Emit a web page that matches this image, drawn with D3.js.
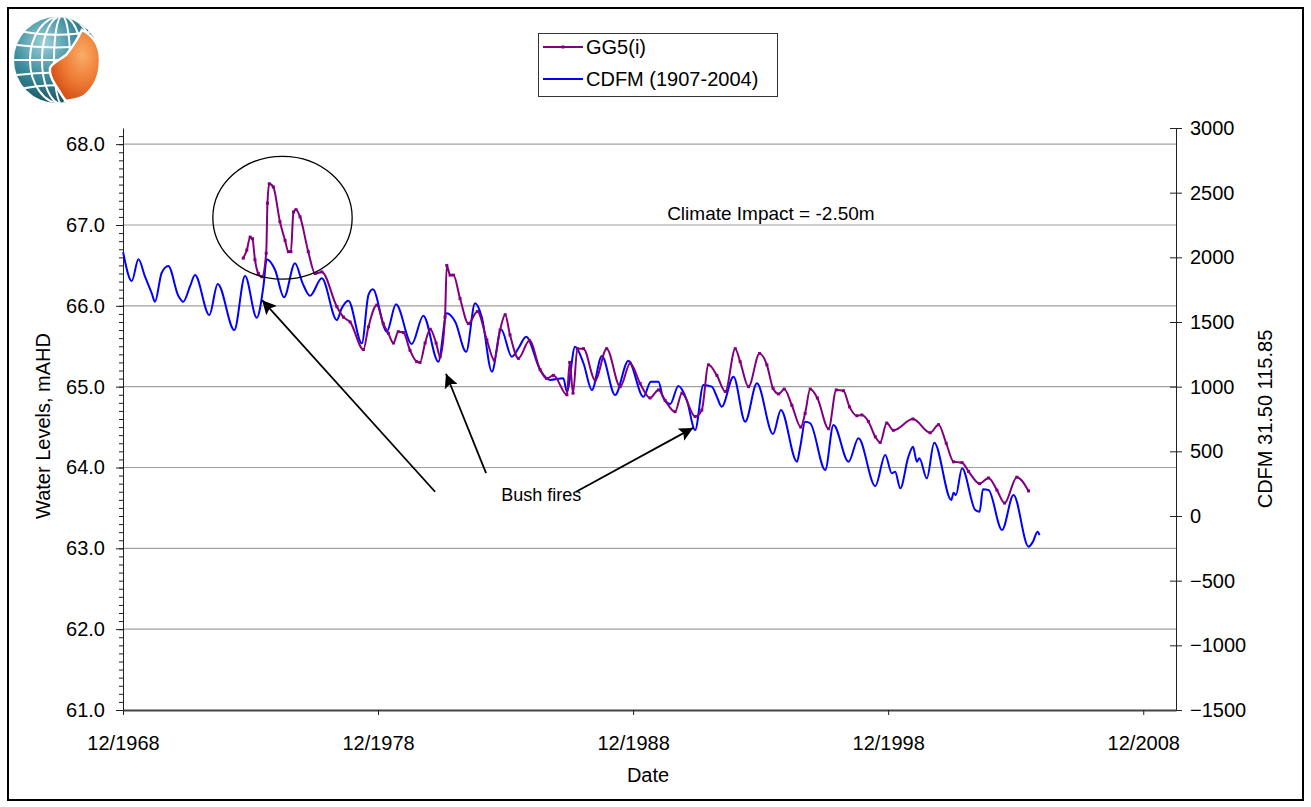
<!DOCTYPE html>
<html>
<head>
<meta charset="utf-8">
<script src="https://cdn.jsdelivr.net/npm/d3@7"></script>
<style>
  body { margin: 0; background: #fff; }
  svg text { font-family: "Liberation Sans", Arial, sans-serif; fill: #000; }
</style>
</head>
<body>
<svg id="chart" width="1311" height="807"></svg>
<script>
// CDFM 31.50 115.85 (right axis), [decimal year, mm]
const cdfm = [
  [1968.92,2040],[1969.26,1817],[1969.52,1985],[1969.78,1850],[1970.04,1724],[1970.17,1657],
  [1970.43,1879],[1970.69,1933],[1971.09,1701],[1971.28,1657],[1971.54,1773],[1971.74,1863],
  [1972.30,1554],[1972.63,1794],[1973.28,1438],[1973.70,1856],[1974.16,1533],[1974.42,1773],
  [1974.55,1985],[1974.88,1902],[1975.23,1691],[1975.66,1954],[1975.96,1799],[1976.25,1703],
  [1976.71,1838],[1977.30,1515],[1977.49,1606],[1977.75,1665],[1978.28,1335],[1978.54,1709],
  [1978.71,1753],[1979.26,1425],[1979.62,1637],[1980.24,1330],[1980.69,1549],[1981.28,1193],
  [1981.61,1567],[1981.94,1502],[1982.37,1270],[1982.72,1645],[1982.98,1541],[1983.38,1116],
  [1983.74,1444],[1984.16,1232],[1984.42,1297],[1984.72,1386],[1985.27,1129],[1985.66,1052],
  [1986.18,1065],[1986.32,961],[1986.64,1309],[1986.97,1181],[1987.30,974],[1987.69,1237],
  [1988.21,936],[1988.73,1201],[1989.32,922],[1989.61,1038],[1989.91,1038],[1990.08,922],
  [1990.37,866],[1990.69,1005],[1991.02,897],[1991.35,665],[1991.67,1013],[1992.00,1000],
  [1992.20,922],[1992.39,845],[1992.85,1077],[1993.31,729],[1993.77,1026],[1994.40,634],
  [1994.71,820],[1995.34,420],[1995.47,536],[1995.66,729],[1995.86,717],[1996.45,356],
  [1996.77,704],[1997.36,420],[1997.75,601],[1998.41,232],[1998.80,472],[1999.06,330],
  [1999.19,343],[1999.39,214],[1999.71,459],[1999.89,536],[2000.04,420],[2000.14,446],
  [2000.43,291],[2000.72,567],[2001.39,124],[2001.48,180],[2001.57,162],[2001.81,369],
  [2002.33,46],[2002.50,33],[2002.63,206],[2002.85,201],[2003.38,-108],[2003.83,162],
  [2004.42,-237],[2004.59,-199],[2004.77,-121],[2004.85,-147]
];

// GG5(i) water level (left axis), [decimal year, mAHD]
const gg5 = [
  [1973.63,66.59],[1973.77,66.69],[1973.90,66.85],[1973.99,66.83],[1974.09,66.57],[1974.22,66.40],
  [1974.36,66.36],[1974.53,66.65],[1974.58,67.27],[1974.65,67.51],[1974.81,67.47],[1975.07,67.04],
  [1975.27,66.81],[1975.40,66.67],[1975.50,66.67],[1975.60,67.16],[1975.70,67.19],[1975.86,67.10],
  [1976.18,66.67],[1976.45,66.40],[1976.71,66.42],[1977.30,65.99],[1977.56,65.86],[1977.82,65.80],
  [1978.34,65.46],[1978.54,65.74],[1978.87,66.01],[1979.12,65.78],[1979.32,65.66],[1979.52,65.54],
  [1979.71,65.68],[1979.91,65.67],[1980.17,65.45],[1980.43,65.31],[1980.56,65.30],[1980.76,65.54],
  [1980.96,65.71],[1981.19,65.54],[1981.35,65.37],[1981.54,65.86],[1981.61,66.50],[1981.74,66.38],
  [1981.87,66.38],[1982.13,66.09],[1982.46,65.78],[1982.81,65.93],[1983.18,65.58],[1983.47,65.33],
  [1983.70,65.70],[1983.90,65.89],[1984.09,65.64],[1984.42,65.35],[1984.85,65.57],[1985.27,65.21],
  [1985.53,65.10],[1985.79,65.14],[1986.32,64.90],[1986.43,65.30],[1986.56,64.92],[1986.73,65.47],
  [1986.97,65.47],[1987.43,65.08],[1987.88,65.47],[1988.41,65.00],[1988.80,65.29],[1989.19,65.04],
  [1989.58,64.86],[1989.91,64.96],[1990.17,64.83],[1990.56,64.69],[1990.83,64.92],[1991.35,64.63],
  [1991.61,64.71],[1991.87,65.27],[1992.20,65.14],[1992.53,64.94],[1992.92,65.47],[1993.11,65.31],
  [1993.44,65.00],[1993.87,65.41],[1994.16,65.27],[1994.40,64.98],[1994.62,64.91],[1994.84,64.97],
  [1995.14,64.77],[1995.49,64.50],[1995.66,64.67],[1995.86,64.97],[1996.14,64.86],[1996.58,64.48],
  [1996.88,64.96],[1997.16,64.95],[1997.40,64.75],[1997.69,64.64],[1997.88,64.65],[1998.14,64.57],
  [1998.41,64.38],[1998.60,64.31],[1998.86,64.55],[1999.12,64.46],[1999.89,64.60],[2000.56,64.43],
  [2000.89,64.53],[2001.19,64.30],[2001.48,64.07],[2001.81,64.06],[2002.07,63.95],[2002.50,63.80],
  [2002.85,63.87],[2003.18,63.72],[2003.48,63.56],[2003.96,63.88],[2004.42,63.71]
];

const leftTicks = [61, 62, 63, 64, 65, 66, 67, 68];
const rightTicks = [-1500, -1000, -500, 0, 500, 1000, 1500, 2000, 2500, 3000];
const xTickYears = [1968, 1978, 1988, 1998, 2008];   // each is December
const seriesNames = ['GG5(i)', 'CDFM (1907-2004)'];
const seriesColors = ['#800080', '#0000ff'];

// annotations in data units: [year, level]
const bushFireArrows = [
  [[1981.15, 63.70], [1974.37, 66.07]],
  [[1983.15, 63.93], [1981.58, 65.16]],
  [[1986.68, 63.70], [1991.27, 64.49]]
];
const bushFireLabel = [1985.31, 63.66, 'Bush fires'];
const climateLabel = [1990.25, 67.15, 'Climate Impact = -2.50m'];
const peakCircle = {cx: 1975.17, cy: 67.09, rx: 2.73, ry: 0.76};

function dy(y) {
  const Y = Math.floor(y);
  const s = new Date(Y, 0, 1), e = new Date(Y + 1, 0, 1);
  return new Date(+s + (y - Y) * (e - s));
}

const svg = d3.select('#chart');
const mLeft = 123, mRight = 1176, mTop = 128, mBottom = 710;

const x = d3.scaleTime()
  .domain([new Date(1968, 11, 1), new Date(2010, 2, 15)])
  .range([mLeft, mRight]);
const yL = d3.scaleLinear().domain([61, 68.2]).range([mBottom, mTop]);
const yR = d3.scaleLinear().domain([-1500, 3000]).range([mBottom, mTop]);

// outer frame
svg.append('rect')
  .attr('x', 8).attr('y', 8).attr('width', 1295).attr('height', 792)
  .attr('fill', '#fff').attr('stroke', '#000').attr('stroke-width', 2);

// logo (globe with orange WA)
const defs = svg.append('defs');
const logo = svg.append('g');
const gGlobe = defs.append('radialGradient').attr('id', 'globe').attr('cx', '35%').attr('cy', '30%').attr('r', '75%');
gGlobe.append('stop').attr('offset', '0%').attr('stop-color', '#9fd0d8');
gGlobe.append('stop').attr('offset', '50%').attr('stop-color', '#3a8c9c');
gGlobe.append('stop').attr('offset', '100%').attr('stop-color', '#16505f');
const gOrange = defs.append('radialGradient').attr('id', 'orange').attr('cx', '65%').attr('cy', '35%').attr('r', '70%');
gOrange.append('stop').attr('offset', '0%').attr('stop-color', '#f9ad66');
gOrange.append('stop').attr('offset', '60%').attr('stop-color', '#ec7630');
gOrange.append('stop').attr('offset', '100%').attr('stop-color', '#d44e16');
defs.append('clipPath').attr('id', 'globeClip')
  .append('circle').attr('cx', 57).attr('cy', 60).attr('r', 43);

logo.append('circle').attr('cx', 57).attr('cy', 60).attr('r', 43).attr('fill', 'url(#globe)');
const grid = logo.append('g').attr('clip-path', 'url(#globeClip)')
  .attr('fill', 'none').attr('stroke', '#fff').attr('stroke-width', 2);
[8, 20, 32].forEach(r => grid.append('ellipse').attr('cx', 62).attr('cy', 60).attr('rx', r).attr('ry', 44));
[-28, -14, 0, 14, 28].forEach(d => grid.append('path')
  .attr('d', `M12,${60 + d * 1.1} Q57,${60 + d * 0.7} 102,${60 + d * 1.1}`));
logo.append('path')
  .attr('d', 'M82,30 C78,38 72,48 66,55 C60,60 52,63 50,68 C49,74 52,80 56,86 C60,92 63,98 66,101 C72,100 78,99 84,96 C94,88 100,76 100,60 C100,46 94,36 82,30 Z')
  .attr('fill', 'url(#orange)').attr('stroke', '#fff').attr('stroke-width', 2.5);

// gridlines
svg.append('g').selectAll('line')
  .data(leftTicks.filter(d => d > 61))
  .join('line')
  .attr('x1', mLeft).attr('x2', mRight)
  .attr('y1', d => yL(d)).attr('y2', d => yL(d))
  .attr('stroke', '#a0a0a0').attr('stroke-width', 1.2);

// axes
const fontSize = 20;
svg.append('g').attr('transform', `translate(${mLeft},0)`)
  .call(d3.axisLeft(yL).tickValues(leftTicks).tickFormat(d3.format('.1f')).tickSize(7).tickSizeOuter(0).tickPadding(11));
svg.append('g').attr('transform', `translate(${mLeft},0)`)
  .call(d3.axisLeft(yL).tickValues(d3.range(611, 682).map(d => d / 10)).tickFormat('').tickSize(4).tickSizeOuter(0))
  .select('.domain').remove();
svg.append('g').attr('transform', `translate(${mRight},0)`)
  .call(d3.axisRight(yR).tickValues(rightTicks).tickFormat(d3.format('d')).tickSize(6).tickSizeOuter(0).tickPadding(8));
svg.append('g').attr('transform', `translate(${mRight},0)`)
  .call(d3.axisRight(yR).tickValues(rightTicks).tickFormat('').tickSize(-6).tickSizeOuter(0))
  .select('.domain').remove();
const axB = svg.append('g').attr('transform', `translate(0,${mBottom})`)
  .call(d3.axisBottom(x).tickValues(xTickYears.map(y => new Date(y, 11, 1)))
    .tickFormat(d3.timeFormat('%m/%Y')).tickSize(5).tickSizeOuter(0).tickPadding(21));

svg.selectAll('.tick text').attr('font-size', fontSize).attr('font-family', '"Liberation Sans", Arial, sans-serif');
svg.selectAll('.domain, .tick line').attr('stroke', '#222');
axB.select('.domain').attr('stroke-width', 2).attr('stroke', '#444');

// axis titles
svg.append('text').attr('transform', `translate(50,${(mTop + mBottom) / 2 + 7}) rotate(-90)`)
  .attr('text-anchor', 'middle').attr('font-size', fontSize).text('Water Levels, mAHD');
svg.append('text').attr('transform', `translate(1272,${(mTop + mBottom) / 2}) rotate(-90)`)
  .attr('text-anchor', 'middle').attr('font-size', fontSize).text('CDFM 31.50 115.85');
svg.append('text').attr('x', 648).attr('y', 782)
  .attr('text-anchor', 'middle').attr('font-size', fontSize).text('Date');

// series
const lineR = d3.line().x(d => x(dy(d[0]))).y(d => yR(d[1])).curve(d3.curveMonotoneX);
const lineL = d3.line().x(d => x(dy(d[0]))).y(d => yL(d[1])).curve(d3.curveMonotoneX);

svg.append('path').datum(cdfm).attr('d', lineR)
  .attr('fill', 'none').attr('stroke', seriesColors[1]).attr('stroke-width', 2);
svg.append('path').datum(gg5).attr('d', lineL)
  .attr('fill', 'none').attr('stroke', seriesColors[0]).attr('stroke-width', 2);
svg.append('g').selectAll('rect')
  .data(gg5)
  .join('rect')
  .attr('x', d => x(dy(d[0])) - 1.5).attr('y', d => yL(d[1]) - 1.5)
  .attr('width', 3).attr('height', 3).attr('fill', seriesColors[0]);

// annotations
const c = peakCircle;
svg.append('ellipse')
  .attr('cx', x(dy(c.cx))).attr('cy', yL(c.cy))
  .attr('rx', x(dy(c.cx + c.rx)) - x(dy(c.cx)))
  .attr('ry', yL(c.cy - c.ry) - yL(c.cy))
  .attr('fill', 'none').attr('stroke', '#000').attr('stroke-width', 1.3);

defs.append('marker').attr('id', 'arrow').attr('viewBox', '0 0 10 10')
  .attr('refX', 10).attr('refY', 5).attr('markerWidth', 14).attr('markerHeight', 14)
  .attr('markerUnits', 'userSpaceOnUse').attr('orient', 'auto')
  .append('path').attr('d', 'M0,0 L10,5 L0,10 L2,5 Z').attr('fill', '#000');

svg.append('g').selectAll('line')
  .data(bushFireArrows)
  .join('line')
  .attr('x1', d => x(dy(d[0][0]))).attr('y1', d => yL(d[0][1]))
  .attr('x2', d => x(dy(d[1][0]))).attr('y2', d => yL(d[1][1]))
  .attr('stroke', '#000').attr('stroke-width', 1.8)
  .attr('marker-end', 'url(#arrow)');

svg.append('text')
  .attr('x', x(dy(bushFireLabel[0]))).attr('y', yL(bushFireLabel[1]))
  .attr('dy', '0.35em').attr('text-anchor', 'middle').attr('font-size', 18)
  .text(bushFireLabel[2]);
svg.append('text')
  .attr('x', x(dy(climateLabel[0]))).attr('y', yL(climateLabel[1]))
  .attr('dy', '0.35em').attr('font-size', 19)
  .text(climateLabel[2]);

// legend
const leg = svg.append('g').attr('transform', 'translate(538,33)');
leg.append('rect').attr('x', 0.5).attr('y', 0.5).attr('width', 239).attr('height', 63)
  .attr('fill', '#fff').attr('stroke', '#333');
seriesNames.forEach((name, i) => {
  const yy = 14 + i * 32;
  leg.append('line').attr('x1', 5).attr('x2', 45).attr('y1', yy).attr('y2', yy)
    .attr('stroke', seriesColors[i]).attr('stroke-width', 2);
  if (i === 0) leg.append('rect').attr('x', 23.5).attr('y', yy - 1.5).attr('width', 3).attr('height', 3).attr('fill', seriesColors[i]);
  leg.append('text').attr('x', 48).attr('y', yy).attr('dy', '0.35em')
    .attr('font-size', fontSize).text(name);
});
</script>
</body>
</html>
